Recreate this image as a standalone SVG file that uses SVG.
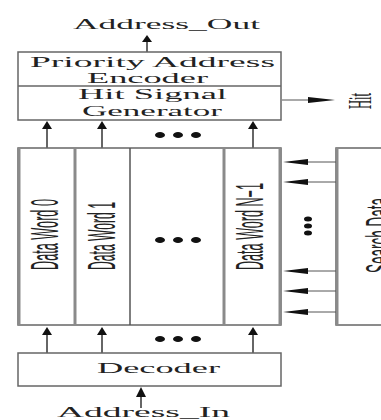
<svg xmlns="http://www.w3.org/2000/svg" width="381" height="420" viewBox="0 0 381 420">
<style>
.box{fill:#fff;stroke:#666;stroke-width:1.5}
.vl{stroke:#8a8a8a;stroke-width:3}
.ln{stroke:#555;stroke-width:1}
.al{stroke:#666;stroke-width:2}
.t{font-family:"Liberation Serif",serif;font-size:15.5px;fill:#222}
.r{font-family:"Liberation Sans",sans-serif;font-size:38px;fill:#222}
.h{font-family:"Liberation Serif",serif;font-size:33px;fill:#222}
.dot{fill:#111}
.head{fill:#111}
</style>
<rect width="381" height="420" fill="#fff"/>
<g id="encoder">
  <rect class="box" x="18" y="52" width="263" height="68"/>
  <line class="box" x1="18" y1="86" x2="281" y2="86"/>
  <text class="t" x="30" y="67" textLength="245" lengthAdjust="spacingAndGlyphs">Priority Address</text>
  <text class="t" x="87" y="83" textLength="121" lengthAdjust="spacingAndGlyphs">Encoder</text>
  <text class="t" x="78" y="99" textLength="149" lengthAdjust="spacingAndGlyphs">Hit Signal</text>
  <text class="t" x="82" y="116" textLength="140" lengthAdjust="spacingAndGlyphs">Generator</text>
</g>
<g id="address-out">
  <text class="t" x="73" y="29" textLength="187" lengthAdjust="spacingAndGlyphs">Address_Out</text>
</g>
<g id="hit">
  <text class="h" transform="translate(371,109) rotate(-90)" textLength="16" lengthAdjust="spacingAndGlyphs">Hit</text>
</g>
<g id="data-words">
  <rect class="box" x="18" y="148" width="263" height="177"/>
  <line class="vl" x1="19" y1="148" x2="19" y2="325"/>
  <line class="vl" x1="75" y1="148" x2="75" y2="325"/>
  <line class="ln" x1="130" y1="148" x2="130" y2="325" style="stroke-width:1.5"/>
  <line class="vl" x1="224" y1="148" x2="224" y2="325"/>
  <line class="vl" x1="280" y1="148" x2="280" y2="325"/>
  <text class="r" transform="translate(58,270) rotate(-90)" textLength="71" lengthAdjust="spacingAndGlyphs">Data Word 0</text>
  <text class="r" transform="translate(115,270) rotate(-90)" textLength="68" lengthAdjust="spacingAndGlyphs">Data Word 1</text>
  <text class="r" transform="translate(263,270) rotate(-90)" textLength="87" lengthAdjust="spacingAndGlyphs">Data Word N−1</text>
</g>
<g id="search-data">
  <rect class="box" x="336" y="148" width="60" height="177"/>
  <line class="vl" x1="337" y1="148" x2="337" y2="325"/>
  <text class="r" transform="translate(393,273) rotate(-90)" textLength="75" lengthAdjust="spacingAndGlyphs">Search Data</text>
</g>
<g id="decoder">
  <rect class="box" x="18" y="353" width="263" height="33"/>
  <text class="t" x="97" y="373" textLength="123" lengthAdjust="spacingAndGlyphs">Decoder</text>
</g>
<g id="address-in">
  <text class="t" x="57" y="417" textLength="173" lengthAdjust="spacingAndGlyphs">Address_In</text>
</g>
<g id="connectors">
  <line class="al" x1="147" y1="52" x2="147" y2="41"/>
  <polygon class="head" points="147,35 142,42 152,42"/>
  <line class="al" x1="47" y1="148" x2="47" y2="128"/>
  <polygon class="head" points="47,121 42,129 52,129"/>
  <line class="al" x1="102" y1="148" x2="102" y2="128"/>
  <polygon class="head" points="102,121 97,129 107,129"/>
  <line class="al" x1="253" y1="148" x2="253" y2="128"/>
  <polygon class="head" points="253,121 248,129 258,129"/>
  <line class="al" x1="47" y1="353" x2="47" y2="334"/>
  <polygon class="head" points="47,327 42,335 52,335"/>
  <line class="al" x1="102" y1="353" x2="102" y2="334"/>
  <polygon class="head" points="102,327 97,335 107,335"/>
  <line class="al" x1="253" y1="353" x2="253" y2="334"/>
  <polygon class="head" points="253,327 248,335 258,335"/>
  <line class="al" x1="141" y1="408" x2="141" y2="396"/>
  <polygon class="head" points="141,387 136,397 146,397"/>
  <line class="ln" x1="282" y1="100" x2="310" y2="100"/>
  <polygon class="head" points="335,100 308,97 308,103"/>
  <line class="ln" x1="305" y1="162" x2="336" y2="162"/>
  <polygon class="head" points="283,162 308,159 308,165"/>
  <line class="ln" x1="305" y1="182" x2="336" y2="182"/>
  <polygon class="head" points="283,182 308,179 308,185"/>
  <line class="ln" x1="305" y1="271" x2="336" y2="271"/>
  <polygon class="head" points="283,271 308,268 308,274"/>
  <line class="ln" x1="305" y1="291" x2="336" y2="291"/>
  <polygon class="head" points="283,291 308,288 308,294"/>
  <line class="ln" x1="305" y1="312" x2="336" y2="312"/>
  <polygon class="head" points="283,312 308,309 308,315"/>
</g>
<g id="dots">
  <ellipse class="dot" cx="160" cy="135" rx="5" ry="3"/>
  <ellipse class="dot" cx="178" cy="135" rx="5" ry="3"/>
  <ellipse class="dot" cx="196" cy="135" rx="5" ry="3"/>
  <ellipse class="dot" cx="160" cy="240" rx="5" ry="3"/>
  <ellipse class="dot" cx="178" cy="240" rx="5" ry="3"/>
  <ellipse class="dot" cx="196" cy="240" rx="5" ry="3"/>
  <ellipse class="dot" cx="160" cy="339" rx="5" ry="3"/>
  <ellipse class="dot" cx="178" cy="339" rx="5" ry="3"/>
  <ellipse class="dot" cx="196" cy="339" rx="5" ry="3"/>
  <ellipse class="dot" cx="308" cy="219" rx="4" ry="2.5"/>
  <ellipse class="dot" cx="308" cy="226" rx="4" ry="2.5"/>
  <ellipse class="dot" cx="308" cy="233" rx="4" ry="2.5"/>
</g>
</svg>
